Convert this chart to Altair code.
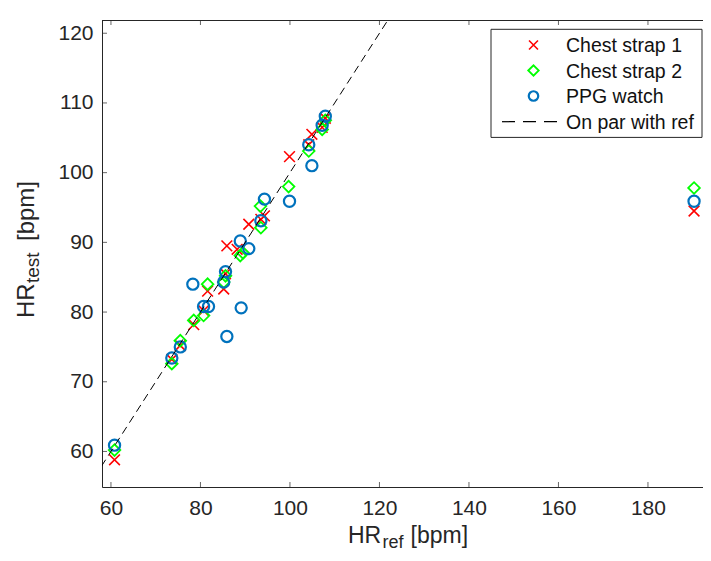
import altair as alt
import pandas as pd

# ---------------- data ----------------
cs1_ref  = [60.8, 73.6, 75.5, 78.5, 80.7, 81.6, 85.2, 85.6, 85.9, 88.2, 90.8, 93.5, 94.3, 99.9, 104.2, 104.9, 107.2, 107.9, 190.3]
cs1_test = [58.8, 73.2, 75.2, 78.2, 80.2, 83.0, 83.3, 85.5, 89.5, 89.0, 92.6, 93.3, 93.8, 102.3, 104.0, 105.5, 106.5, 107.8, 94.5]

cs2_ref  = [60.8, 73.6, 75.5, 78.5, 80.7, 81.6, 85.2, 85.6, 88.9, 89.5, 93.4, 93.5, 99.7, 104.2, 107.2, 107.9, 190.3]
cs2_test = [60.2, 72.6, 75.9, 78.8, 79.5, 84.0, 84.3, 85.2, 88.1, 88.5, 95.2, 92.1, 98.0, 103.1, 106.2, 107.5, 97.8]

ppg_ref  = [60.8, 73.6, 75.5, 78.3, 80.7, 81.8, 85.2, 85.6, 85.9, 88.9, 89.1, 90.8, 93.5, 94.3, 99.9, 104.2, 104.9, 107.2, 107.9, 190.3]
ppg_test = [60.9, 73.4, 75.0, 84.0, 80.8, 80.8, 84.3, 85.8, 76.5, 90.2, 80.6, 89.1, 93.1, 96.2, 95.9, 104.0, 101.0, 106.8, 108.1, 95.9]

line_vals = [50, 130]  # y = x reference line (clipped to the axes)

x_ticks = [60, 80, 100, 120, 140, 160, 180]
y_ticks = [60, 70, 80, 90, 100, 110, 120]

series_names = ["Chest strap 1", "Chest strap 2", "PPG watch", "On par with ref"]
x_title = ["HR", "ref", "[bpm]"]
y_title = ["HR", "test", "[bpm]"]

# ---------------- styling ----------------
W, H = 601, 467
FONT = "Liberation Sans"
AX = "#262626"
RED, GREEN, BLUE = "#FF0000", "#00FF00", "#0072BD"
XSHAPE = "M-1,-1L1,1M1,-1L-1,1"

xscale = alt.Scale(domain=[58.0, 192.3], nice=False, zero=False)
yscale = alt.Scale(domain=[54.9, 121.9], nice=False, zero=False)
xaxis = alt.Axis(values=x_ticks, title=None, ticks=False, grid=False, labelPadding=10,
                 labelFontSize=21, labelFont=FONT, labelColor=AX, domainColor=AX)
yaxis = alt.Axis(values=y_ticks, title=None, ticks=False, grid=False, labelPadding=9,
                 labelFontSize=21, labelFont=FONT, labelColor=AX, domainColor=AX)


def X(f):
    return alt.X(f"{f}:Q", scale=xscale, axis=xaxis)


def Y(f):
    return alt.Y(f"{f}:Q", scale=yscale, axis=yaxis)


cs1 = pd.DataFrame({"ref": cs1_ref, "test": cs1_test})
cs2 = pd.DataFrame({"ref": cs2_ref, "test": cs2_test})
ppg = pd.DataFrame({"ref": ppg_ref, "test": ppg_test})
ln = pd.DataFrame({"ref": line_vals, "test": line_vals})
xt = pd.DataFrame({"ref": x_ticks})
yt = pd.DataFrame({"test": y_ticks})

p1 = alt.Chart(cs1).mark_point(shape=XSHAPE, filled=False, color=RED, size=115,
                               strokeWidth=1.6, opacity=1).encode(x=X("ref"), y=Y("test"))
p2 = alt.Chart(cs2).mark_point(shape="diamond", filled=False, color=GREEN, size=135,
                               strokeWidth=1.8, opacity=1).encode(x=X("ref"), y=Y("test"))
p3 = alt.Chart(ppg).mark_point(shape="circle", filled=False, color=BLUE, size=125,
                               strokeWidth=2.2, opacity=1).encode(x=X("ref"), y=Y("test"))
dash = alt.Chart(ln).mark_line(color="black", strokeWidth=1, strokeDash=[8, 5], clip=True).encode(
    x=X("ref"), y=Y("test"))

# inward ticks (bottom, top, left) and top border
tb = alt.Chart(xt).mark_tick(color=AX, size=5, thickness=1).encode(x=X("ref"), y=alt.value(H - 2.5))
tt = alt.Chart(xt).mark_tick(color=AX, size=5, thickness=1).encode(x=X("ref"), y=alt.value(2.5))
tl = alt.Chart(yt).mark_tick(color=AX, size=5, thickness=1).encode(y=Y("test"), x=alt.value(2.5))
top = alt.Chart(pd.DataFrame({"a": [0]})).mark_rule(color=AX, strokeWidth=1).encode(
    x=alt.value(0), x2=alt.value(W), y=alt.value(0.5))

# legend
lx0, lx1, ly0, ly1 = 389, 600, 9.3, 117.4
rows = [25.0, 50.5, 76.0, 101.7]
leg_box = alt.Chart(pd.DataFrame({"a": [0]})).mark_rect(fill="white", stroke=AX, strokeWidth=1).encode(
    x=alt.value(lx0), x2=alt.value(lx1), y=alt.value(ly0), y2=alt.value(ly1))
sym_x = 431.5
leg_layers = [leg_box]
leg_layers.append(alt.Chart(pd.DataFrame({"a": [0]})).mark_point(
    shape=XSHAPE, filled=False, color=RED, size=80, strokeWidth=1.6, opacity=1).encode(
    x=alt.value(sym_x), y=alt.value(rows[0])))
leg_layers.append(alt.Chart(pd.DataFrame({"a": [0]})).mark_point(
    shape="diamond", filled=False, color=GREEN, size=110, strokeWidth=1.8, opacity=1).encode(
    x=alt.value(sym_x), y=alt.value(rows[1])))
leg_layers.append(alt.Chart(pd.DataFrame({"a": [0]})).mark_point(
    shape="circle", filled=False, color=BLUE, size=90, strokeWidth=2.2, opacity=1).encode(
    x=alt.value(sym_x), y=alt.value(rows[2])))
leg_layers.append(alt.Chart(pd.DataFrame({"a": [0]})).mark_rule(
    color="black", strokeWidth=1.2, strokeDash=[13, 8]).encode(
    x=alt.value(400), x2=alt.value(457), y=alt.value(rows[3])))
for name, ry in zip(series_names, rows):
    leg_layers.append(alt.Chart(pd.DataFrame({"t": [name]})).mark_text(
        align="left", baseline="middle", font=FONT, fontSize=19.5, color="#111").encode(
        text="t:N", x=alt.value(464), y=alt.value(ry + 1)))

# axis titles with subscripts
def txt(s, x, y, size, angle=0):
    return alt.Chart(pd.DataFrame({"t": [s]})).mark_text(
        align="left", baseline="alphabetic", font=FONT, fontSize=size, color=AX, angle=angle).encode(
        text="t:N", x=alt.value(x), y=alt.value(y))

titles = [
    txt(x_title[0], 246, 523, 23),
    txt(x_title[1], 280.5, 528, 18),
    txt(x_title[2], 308.5, 523, 23),
    txt(y_title[0], -68.5, 298, 24, 270),
    txt(y_title[1], -63, 263, 19, 270),
    txt(y_title[2], -68.5, 221, 24, 270),
]

chart = alt.layer(
    p1, p2, p3, dash, tb, tt, tl, top, *leg_layers, *titles
).properties(
    width=W, height=H,
    autosize=alt.AutoSizeParams(type="none"),
    padding={"left": 94, "top": 12, "right": 0, "bottom": 65},
).configure_view(stroke=None).configure(background="white")

chart.save("out.html", embed_options={"renderer": "svg", "actions": False})
